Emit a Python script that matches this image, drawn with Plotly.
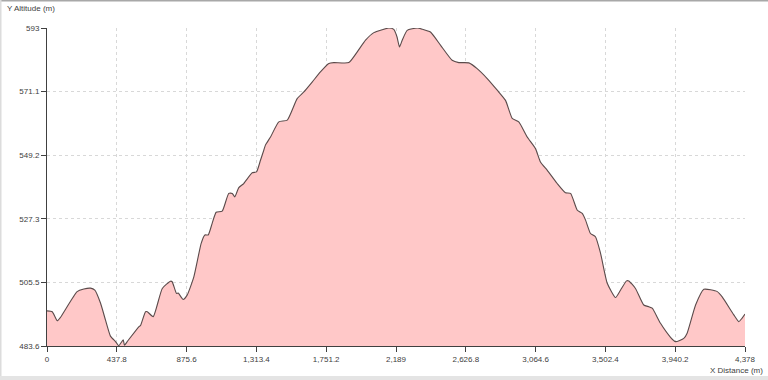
import plotly.graph_objects as go

distance = [0, 33, 64, 85, 189, 231, 273, 300, 336, 367, 398, 430, 450, 478, 486, 507,
            576, 586, 618, 629, 666, 723, 775, 785, 812, 823, 854, 879, 921, 967, 990,
            1011, 1036, 1061, 1099, 1140, 1162, 1178, 1203, 1234, 1287, 1314, 1339, 1360,
            1370, 1402, 1454, 1507, 1569, 1611, 1663, 1715, 1768, 1799, 1893, 1946, 1998,
            2050, 2102, 2144, 2175, 2195, 2211, 2228, 2259, 2322, 2353, 2405, 2468, 2541,
            2583, 2646, 2698, 2761, 2824, 2876, 2918, 2959, 3012, 3064, 3095, 3137, 3200,
            3252, 3284, 3326, 3357, 3378, 3409, 3440, 3472, 3514, 3566, 3597, 3635, 3649,
            3691, 3743, 3775, 3796, 3848, 3911, 3942, 3994, 4015, 4068, 4120, 4204, 4235,
            4308, 4339, 4360, 4378]
altitude = [495.7, 495.4, 492.3, 493.5, 502.3, 503.2, 503.5, 502.8, 498.3, 492.5, 487.0,
            485.1, 483.7, 485.7, 483.9, 485.4, 490.2, 490.6, 495.4, 495.4, 493.7, 503.4,
            505.9, 505.7, 501.7, 501.8, 499.6, 501.1, 507.4, 518.9, 521.8, 521.8, 525.8,
            529.6, 530.0, 536.1, 536.1, 534.9, 538.1, 539.5, 543.2, 543.5, 547.5, 551.0,
            552.7, 555.5, 560.7, 561.3, 568.7, 571.0, 574.4, 577.9, 580.8, 581.1, 581.1,
            584.8, 588.8, 591.4, 592.4, 593.0, 592.5, 590.0, 586.5, 588.8, 592.2, 593.0,
            592.6, 591.6, 587.1, 581.9, 581.1, 581.0, 579.0, 575.6, 571.6, 568.1, 561.9,
            560.7, 555.5, 551.5, 546.9, 544.1, 539.5, 536.3, 536.1, 530.3, 529.2, 526.9,
            522.3, 521.2, 515.5, 505.2, 500.3, 502.8, 506.0, 506.0, 503.4, 497.7, 497.1,
            496.6, 491.4, 486.6, 485.1, 486.2, 488.0, 497.7, 503.1, 502.3, 500.5, 494.3,
            492.0, 493.2, 494.6]

x_ticks = [0, 437.8, 875.6, 1313.4, 1751.2, 2189, 2626.8, 3064.6, 3502.4, 3940.2, 4378]
x_labels = ["0", "437.8", "875.6", "1,313.4", "1,751.2", "2,189", "2,626.8", "3,064.6",
            "3,502.4", "3,940.2", "4,378"]
y_ticks = [483.6, 505.5, 527.3, 549.2, 571.1, 593]
y_labels = ["483.6", "505.5", "527.3", "549.2", "571.1", "593"]

W, H = 768, 380
ML, MR, MT, MB = 47, 23, 28, 34
PW, PH = W - ML - MR, H - MT - MB

def px_x(p):
    return (p - ML) / PW

def px_y(p):
    return 1 - (p - MT) / PH

fig = go.Figure()
fig.add_trace(go.Scatter(
    x=distance, y=altitude, mode="lines",
    line=dict(color="#5a4a4a", width=1.1, shape="spline", smoothing=0.5),
    fill="tozeroy", fillcolor="#ffc8c8", hoverinfo="skip", showlegend=False))

axis_font = dict(family="Liberation Sans, Arial, sans-serif", size=8, color="#404040")
fig.update_xaxes(range=[0, 4378], tickvals=x_ticks, ticktext=x_labels,
                 showgrid=True, gridcolor="#d8d8d8", griddash="dot", gridwidth=1,
                 showline=True, linecolor="#404040", linewidth=1,
                 ticks="outside", ticklen=5, tickcolor="#404040",
                 tickfont=axis_font, zeroline=False)
fig.update_yaxes(range=[483.6, 593], tickvals=y_ticks, ticktext=y_labels,
                 showgrid=True, gridcolor="#d8d8d8", griddash="dot", gridwidth=1,
                 showline=True, linecolor="#404040", linewidth=1,
                 ticks="outside", ticklen=5, tickcolor="#404040",
                 tickfont=axis_font, zeroline=False)

shapes = [
    dict(type="rect", xref="paper", yref="paper", x0=px_x(0), x1=px_x(W), y0=px_y(0), y1=px_y(1.5),
         fillcolor="#a8a8a8", line_width=0, layer="above"),
    dict(type="rect", xref="paper", yref="paper", x0=px_x(0), x1=px_x(1.5), y0=px_y(H), y1=px_y(0),
         fillcolor="#dcdcdc", line_width=0, layer="above"),
    dict(type="rect", xref="paper", yref="paper", x0=px_x(0), x1=px_x(W), y0=px_y(H), y1=px_y(376),
         fillcolor="#e4e4e4", line_width=0, layer="above"),
]

title_font = dict(family="Liberation Sans, Arial, sans-serif", size=8, color="#404040")
annotations = [
    dict(text="Y Altitude (m)", xref="paper", yref="paper", x=px_x(5), y=px_y(8),
         xanchor="left", yanchor="middle", showarrow=False, font=title_font),
    dict(text="X Distance (m)", xref="paper", yref="paper", x=px_x(765), y=px_y(370),
         xanchor="right", yanchor="middle", showarrow=False, font=title_font),
]

fig.update_layout(width=W, height=H, margin=dict(l=ML, r=MR, t=MT, b=MB),
                  paper_bgcolor="white", plot_bgcolor="white",
                  shapes=shapes, annotations=annotations)
fig.write_html("out.html")
